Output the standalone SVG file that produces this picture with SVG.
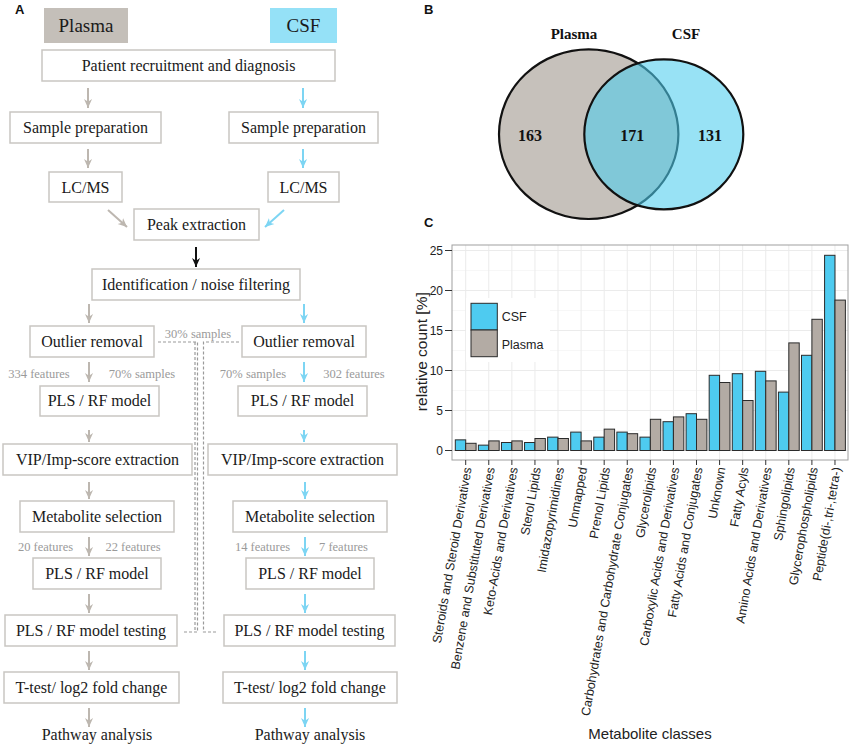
<svg xmlns="http://www.w3.org/2000/svg" width="852" height="747" viewBox="0 0 852 747">
<defs>
<style>
.bx{fill:#fff;stroke:#c9c6c2;stroke-width:1.5}
.t{font-family:"Liberation Serif","Times New Roman",serif;font-size:16px;fill:#1a1a1a;text-anchor:middle}
.h{font-family:"Liberation Serif","Times New Roman",serif;font-size:19px;fill:#1a1a1a;text-anchor:middle}
.g{font-family:"Liberation Serif","Times New Roman",serif;font-size:12.5px;fill:#9a9a9a;text-anchor:middle}
.lbl{font-family:"Liberation Sans",Arial,sans-serif;font-size:13px;font-weight:bold;fill:#111}
.vn{font-family:"Liberation Serif","Times New Roman",serif;font-size:16px;font-weight:bold;fill:#111;text-anchor:middle}
.ag{stroke:#bdb7b0;stroke-width:2;fill:none;marker-end:url(#mg)}
.ab{stroke:#7dd5f3;stroke-width:2;fill:none;marker-end:url(#mb)}
.ak{stroke:#111;stroke-width:2;fill:none;marker-end:url(#mk)}
.dash{stroke:#9a9a9a;stroke-width:1.2;fill:none;stroke-dasharray:3 2}
.sans{font-family:"Liberation Sans",Arial,sans-serif;fill:#222}
.grid{stroke:#ebebeb;stroke-width:1}
.gridm{stroke:#f5f5f5;stroke-width:0.8}
.csf{fill:#4ecbf0;stroke:#2b2b2b;stroke-width:1}
.pl{fill:#b3aba4;stroke:#2b2b2b;stroke-width:1}
.xl{font-family:"Liberation Sans",Arial,sans-serif;font-size:12.5px;fill:#222;text-anchor:end}
.tk{stroke:#333;stroke-width:1}
</style>
<marker id="mg" viewBox="0 0 10 10" refX="10" refY="5" markerWidth="9" markerHeight="9" markerUnits="userSpaceOnUse" orient="auto"><path d="M0,0.5 L10,5 L0,9.5 L3,5 z" fill="#bdb7b0"/></marker>
<marker id="mb" viewBox="0 0 10 10" refX="10" refY="5" markerWidth="9" markerHeight="9" markerUnits="userSpaceOnUse" orient="auto"><path d="M0,0.5 L10,5 L0,9.5 L3,5 z" fill="#7dd5f3"/></marker>
<marker id="mk" viewBox="0 0 10 10" refX="10" refY="5" markerWidth="9" markerHeight="9" markerUnits="userSpaceOnUse" orient="auto"><path d="M0,0.5 L10,5 L0,9.5 L3,5 z" fill="#111"/></marker>
</defs>
<rect width="852" height="747" fill="#fff"/>

<!-- Panel A -->
<text class="lbl" x="15" y="14">A</text>
<g id="hdr-plasma"><rect x="44" y="8" width="84" height="35" fill="#c4bfb9"/><text class="h" x="86" y="32">Plasma</text></g>
<g id="hdr-csf"><rect x="270" y="8" width="67" height="35" fill="#95e1f7"/><text class="h" x="303.5" y="32">CSF</text></g>
<g id="patient"><rect class="bx" x="42" y="50" width="293" height="31"/><text class="t" x="188.5" y="70.5">Patient recruitment and diagnosis</text></g>
<g id="sp-l"><rect class="bx" x="10" y="112" width="151" height="31"/><text class="t" x="85.5" y="132.5">Sample preparation</text></g>
<g id="sp-r"><rect class="bx" x="229" y="112" width="149" height="31"/><text class="t" x="303.5" y="132.5">Sample preparation</text></g>
<g id="lc-l"><rect class="bx" x="49" y="172" width="73" height="30"/><text class="t" x="85.5" y="192.5">LC/MS</text></g>
<g id="lc-r"><rect class="bx" x="268" y="172" width="71" height="30"/><text class="t" x="303.5" y="192.5">LC/MS</text></g>
<g id="peak"><rect class="bx" x="134" y="209" width="125" height="31"/><text class="t" x="196.5" y="229.5">Peak extraction</text></g>
<g id="ident"><rect class="bx" x="92" y="269" width="208" height="31"/><text class="t" x="196" y="289.5">Identification / noise filtering</text></g>
<g id="out-l"><rect class="bx" x="30" y="326" width="124" height="31"/><text class="t" x="92" y="346.5">Outlier removal</text></g>
<g id="out-r"><rect class="bx" x="242" y="326" width="124" height="31"/><text class="t" x="304" y="346.5">Outlier removal</text></g>
<g id="pls1-l"><rect class="bx" x="40" y="386" width="119" height="30"/><text class="t" x="99.5" y="406">PLS / RF model</text></g>
<g id="pls1-r"><rect class="bx" x="238" y="386" width="129" height="30"/><text class="t" x="302.5" y="406">PLS / RF model</text></g>
<g id="vip-l"><rect class="bx" x="3" y="444" width="189" height="31"/><text class="t" x="97.5" y="464.5">VIP/Imp-score extraction</text></g>
<g id="vip-r"><rect class="bx" x="208" y="444" width="189" height="31"/><text class="t" x="302.5" y="464.5">VIP/Imp-score extraction</text></g>
<g id="met-l"><rect class="bx" x="20" y="501" width="154" height="31"/><text class="t" x="97" y="521.5">Metabolite selection</text></g>
<g id="met-r"><rect class="bx" x="233" y="501" width="154" height="31"/><text class="t" x="310" y="521.5">Metabolite selection</text></g>
<g id="pls2-l"><rect class="bx" x="33" y="558" width="128" height="31"/><text class="t" x="97" y="578.5">PLS / RF model</text></g>
<g id="pls2-r"><rect class="bx" x="246" y="558" width="128" height="31"/><text class="t" x="310" y="578.5">PLS / RF model</text></g>
<g id="test-l"><rect class="bx" x="5" y="615" width="172" height="31"/><text class="t" x="91" y="635.5">PLS / RF model testing</text></g>
<g id="test-r"><rect class="bx" x="224" y="615" width="171" height="31"/><text class="t" x="309.5" y="635.5">PLS / RF model testing</text></g>
<g id="tt-l"><rect class="bx" x="4" y="672" width="175" height="31"/><text class="t" x="91.5" y="692.5">T-test/ log2 fold change</text></g>
<g id="tt-r"><rect class="bx" x="223" y="672" width="174" height="31"/><text class="t" x="310" y="692.5">T-test/ log2 fold change</text></g>
<g id="path-l"><text class="t" x="97" y="740">Pathway analysis</text></g>
<g id="path-r"><text class="t" x="310" y="740">Pathway analysis</text></g>

<g id="connectors">
<path class="ag" d="M88,88 V108"/><path class="ab" d="M303,88 V108"/>
<path class="ag" d="M88,149 V168"/><path class="ab" d="M303,149 V168"/>
<path class="ag" d="M108,210 L127,227"/><path class="ab" d="M284,210 L265,227"/>
<path class="ak" d="M196,247 V267"/>
<path class="ag" d="M89,304 V323"/><path class="ab" d="M304,304 V323"/>
<path class="ag" d="M89,362 V382"/><path class="ab" d="M304,362 V382"/>
<path class="ag" d="M89,430 V442"/><path class="ab" d="M304,430 V442"/>
<path class="ag" d="M89,482 V499"/><path class="ab" d="M305,482 V499"/>
<path class="ag" d="M89,537 V556"/><path class="ab" d="M305,537 V556"/>
<path class="ag" d="M89,594 V613"/><path class="ab" d="M305,594 V613"/>
<path class="ag" d="M89,651 V670"/><path class="ab" d="M305,651 V670"/>
<path class="ag" d="M89,708 V727"/><path class="ab" d="M305,708 V727"/>
<path class="dash" d="M158,342 H197.5 V632 H183"/>
<path class="dash" d="M195,342 V632"/>
<path class="dash" d="M239,342 H203.5 V632 H217"/>
<text class="g" x="198" y="337.5">30% samples</text>
<text class="g" x="39" y="378">334 features</text>
<text class="g" x="142" y="378">70% samples</text>
<text class="g" x="253" y="378">70% samples</text>
<text class="g" x="354" y="378">302 features</text>
<text class="g" x="45.5" y="550.5">20 features</text>
<text class="g" x="133" y="550.5">22 features</text>
<text class="g" x="262.5" y="550.5">14 features</text>
<text class="g" x="343.5" y="550.5">7 features</text>
</g>

<!-- Panel B -->
<text class="lbl" x="424" y="14">B</text>
<g id="venn">
<ellipse cx="588.7" cy="134.2" rx="89.7" ry="84.8" fill="#c6c1bb" stroke="#111" stroke-width="2.2"/>
<ellipse cx="663.8" cy="134.3" rx="79.5" ry="75" fill="#4ecdee" fill-opacity="0.58" stroke="none"/>
<ellipse cx="663.8" cy="134.3" rx="79.5" ry="75" fill="none" stroke="#111" stroke-width="2.2"/>
<text class="vn" x="574" y="39" style="font-size:15px">Plasma</text>
<text class="vn" x="686" y="39" style="font-size:15px">CSF</text>
<text class="vn" x="530" y="141">163</text>
<text class="vn" x="632.3" y="141">171</text>
<text class="vn" x="710" y="141">131</text>
</g>

<!-- Panel C -->
<text class="lbl" x="424" y="227">C</text>
<g id="chart">
<rect x="452" y="245" width="396" height="215" fill="#fff"/>
<g>
<line class="gridm" x1="452" x2="848" y1="430.5" y2="430.5"/><line class="gridm" x1="452" x2="848" y1="390.5" y2="390.5"/><line class="gridm" x1="452" x2="848" y1="350.5" y2="350.5"/><line class="gridm" x1="452" x2="848" y1="310.5" y2="310.5"/><line class="gridm" x1="452" x2="848" y1="270.5" y2="270.5"/>
<line class="grid" x1="452" x2="848" y1="450.5" y2="450.5"/><line class="grid" x1="452" x2="848" y1="410.5" y2="410.5"/><line class="grid" x1="452" x2="848" y1="370.5" y2="370.5"/><line class="grid" x1="452" x2="848" y1="330.5" y2="330.5"/><line class="grid" x1="452" x2="848" y1="290.5" y2="290.5"/><line class="grid" x1="452" x2="848" y1="250.5" y2="250.5"/>
<line class="grid" x1="465.7" x2="465.7" y1="245" y2="460"/><line class="grid" x1="488.78" x2="488.78" y1="245" y2="460"/><line class="grid" x1="511.86" x2="511.86" y1="245" y2="460"/><line class="grid" x1="534.94" x2="534.94" y1="245" y2="460"/><line class="grid" x1="558.02" x2="558.02" y1="245" y2="460"/><line class="grid" x1="581.1" x2="581.1" y1="245" y2="460"/><line class="grid" x1="604.18" x2="604.18" y1="245" y2="460"/><line class="grid" x1="627.26" x2="627.26" y1="245" y2="460"/><line class="grid" x1="650.34" x2="650.34" y1="245" y2="460"/><line class="grid" x1="673.42" x2="673.42" y1="245" y2="460"/><line class="grid" x1="696.5" x2="696.5" y1="245" y2="460"/><line class="grid" x1="719.58" x2="719.58" y1="245" y2="460"/><line class="grid" x1="742.66" x2="742.66" y1="245" y2="460"/><line class="grid" x1="765.74" x2="765.74" y1="245" y2="460"/><line class="grid" x1="788.82" x2="788.82" y1="245" y2="460"/><line class="grid" x1="811.9" x2="811.9" y1="245" y2="460"/><line class="grid" x1="834.98" x2="834.98" y1="245" y2="460"/>
</g>
<g id="bars">
<rect class="csf" x="455.3" y="439.86" width="10.4" height="10.64"/><rect class="pl" x="465.7" y="443.3" width="10.4" height="7.2"/>
<rect class="csf" x="478.38" y="445.14" width="10.4" height="5.36"/><rect class="pl" x="488.78" y="440.9" width="10.4" height="9.6"/>
<rect class="csf" x="501.46" y="442.5" width="10.4" height="8"/><rect class="pl" x="511.86" y="440.9" width="10.4" height="9.6"/>
<rect class="csf" x="524.54" y="442.5" width="10.4" height="8"/><rect class="pl" x="534.94" y="438.5" width="10.4" height="12"/>
<rect class="csf" x="547.62" y="437.14" width="10.4" height="13.36"/><rect class="pl" x="558.02" y="438.5" width="10.4" height="12"/>
<rect class="csf" x="570.7" y="432.1" width="10.4" height="18.4"/><rect class="pl" x="581.1" y="440.9" width="10.4" height="9.6"/>
<rect class="csf" x="593.78" y="437.14" width="10.4" height="13.36"/><rect class="pl" x="604.18" y="429.14" width="10.4" height="21.36"/>
<rect class="csf" x="616.86" y="432.1" width="10.4" height="18.4"/><rect class="pl" x="627.26" y="433.7" width="10.4" height="16.8"/>
<rect class="csf" x="639.94" y="437.14" width="10.4" height="13.36"/><rect class="pl" x="650.34" y="419.3" width="10.4" height="31.2"/>
<rect class="csf" x="663.02" y="421.7" width="10.4" height="28.8"/><rect class="pl" x="673.42" y="416.9" width="10.4" height="33.6"/>
<rect class="csf" x="686.1" y="413.7" width="10.4" height="36.8"/><rect class="pl" x="696.5" y="419.3" width="10.4" height="31.2"/>
<rect class="csf" x="709.18" y="375.3" width="10.4" height="75.2"/><rect class="pl" x="719.58" y="382.5" width="10.4" height="68"/>
<rect class="csf" x="732.26" y="373.7" width="10.4" height="76.8"/><rect class="pl" x="742.66" y="400.5" width="10.4" height="50"/>
<rect class="csf" x="755.34" y="371.3" width="10.4" height="79.2"/><rect class="pl" x="765.74" y="380.9" width="10.4" height="69.6"/>
<rect class="csf" x="778.42" y="392.1" width="10.4" height="58.4"/><rect class="pl" x="788.82" y="342.9" width="10.4" height="107.6"/>
<rect class="csf" x="801.5" y="355.3" width="10.4" height="95.2"/><rect class="pl" x="811.9" y="319.3" width="10.4" height="131.2"/>
<rect class="csf" x="824.58" y="255.3" width="10.4" height="195.2"/><rect class="pl" x="834.98" y="300.1" width="10.4" height="150.4"/>
</g>
<g id="legend">
<rect x="466" y="298" width="84" height="64" fill="#fff"/>
<rect class="csf" x="471" y="303.3" width="26.3" height="26.7"/>
<rect class="pl" x="471" y="330" width="26.3" height="26.7"/>
<text class="sans" x="501.7" y="321" font-size="12.5">CSF</text>
<text class="sans" x="501.7" y="348.5" font-size="12.5">Plasma</text>
</g>
<rect x="452" y="245" width="396" height="215" fill="none" stroke="#a0a0a0" stroke-width="1"/>
<g id="yaxis">
<line class="tk" x1="445" x2="452" y1="450.5" y2="450.5"/><line class="tk" x1="445" x2="452" y1="410.5" y2="410.5"/><line class="tk" x1="445" x2="452" y1="370.5" y2="370.5"/><line class="tk" x1="445" x2="452" y1="330.5" y2="330.5"/><line class="tk" x1="445" x2="452" y1="290.5" y2="290.5"/><line class="tk" x1="445" x2="452" y1="250.5" y2="250.5"/>
<g class="sans" font-size="12" text-anchor="end">
<text x="443" y="454.8">0</text><text x="443" y="414.8">5</text><text x="443" y="374.8">10</text><text x="443" y="334.8">15</text><text x="443" y="294.8">20</text><text x="443" y="254.8">25</text>
</g>
<text class="sans" font-size="15.5" text-anchor="middle" transform="translate(427,351.7) rotate(-90)">relative count [%]</text>
</g>
<g id="xaxis">
<line class="tk" x1="465.7" x2="465.7" y1="460" y2="465"/><line class="tk" x1="488.78" x2="488.78" y1="460" y2="465"/><line class="tk" x1="511.86" x2="511.86" y1="460" y2="465"/><line class="tk" x1="534.94" x2="534.94" y1="460" y2="465"/><line class="tk" x1="558.02" x2="558.02" y1="460" y2="465"/><line class="tk" x1="581.1" x2="581.1" y1="460" y2="465"/><line class="tk" x1="604.18" x2="604.18" y1="460" y2="465"/><line class="tk" x1="627.26" x2="627.26" y1="460" y2="465"/><line class="tk" x1="650.34" x2="650.34" y1="460" y2="465"/><line class="tk" x1="673.42" x2="673.42" y1="460" y2="465"/><line class="tk" x1="696.5" x2="696.5" y1="460" y2="465"/><line class="tk" x1="719.58" x2="719.58" y1="460" y2="465"/><line class="tk" x1="742.66" x2="742.66" y1="460" y2="465"/><line class="tk" x1="765.74" x2="765.74" y1="460" y2="465"/><line class="tk" x1="788.82" x2="788.82" y1="460" y2="465"/><line class="tk" x1="811.9" x2="811.9" y1="460" y2="465"/><line class="tk" x1="834.98" x2="834.98" y1="460" y2="465"/>
<text class="xl" transform="translate(471.7,468) rotate(-80)">Steroids and Steroid Derivatives</text>
<text class="xl" transform="translate(494.78,468) rotate(-80)">Benzene and Substituted Derivatives</text>
<text class="xl" transform="translate(517.86,468) rotate(-80)">Keto-Acids and Derivatives</text>
<text class="xl" transform="translate(540.94,468) rotate(-80)">Sterol Lipids</text>
<text class="xl" transform="translate(564.02,468) rotate(-80)">Imidazopyrimidines</text>
<text class="xl" transform="translate(587.1,468) rotate(-80)">Unmapped</text>
<text class="xl" transform="translate(610.18,468) rotate(-80)">Prenol Lipids</text>
<text class="xl" transform="translate(633.26,468) rotate(-80)">Carbohydrates and Carbohydrate Conjugates</text>
<text class="xl" transform="translate(656.34,468) rotate(-80)">Glycerolipids</text>
<text class="xl" transform="translate(679.42,468) rotate(-80)">Carboxylic Acids and Derivatives</text>
<text class="xl" transform="translate(702.5,468) rotate(-80)">Fatty Acids and Conjugates</text>
<text class="xl" transform="translate(725.58,468) rotate(-80)">Unknown</text>
<text class="xl" transform="translate(748.66,468) rotate(-80)">Fatty Acyls</text>
<text class="xl" transform="translate(771.74,468) rotate(-80)">Amino Acids and Derivatives</text>
<text class="xl" transform="translate(794.82,468) rotate(-80)">Sphingolipids</text>
<text class="xl" transform="translate(817.9,468) rotate(-80)">Glycerophospholipids</text>
<text class="xl" transform="translate(840.98,468) rotate(-80)">Peptide(di-,tri-,tetra-)</text>
<text class="sans" font-size="15" text-anchor="middle" x="650" y="739">Metabolite classes</text>
</g>
</g>
</svg>
